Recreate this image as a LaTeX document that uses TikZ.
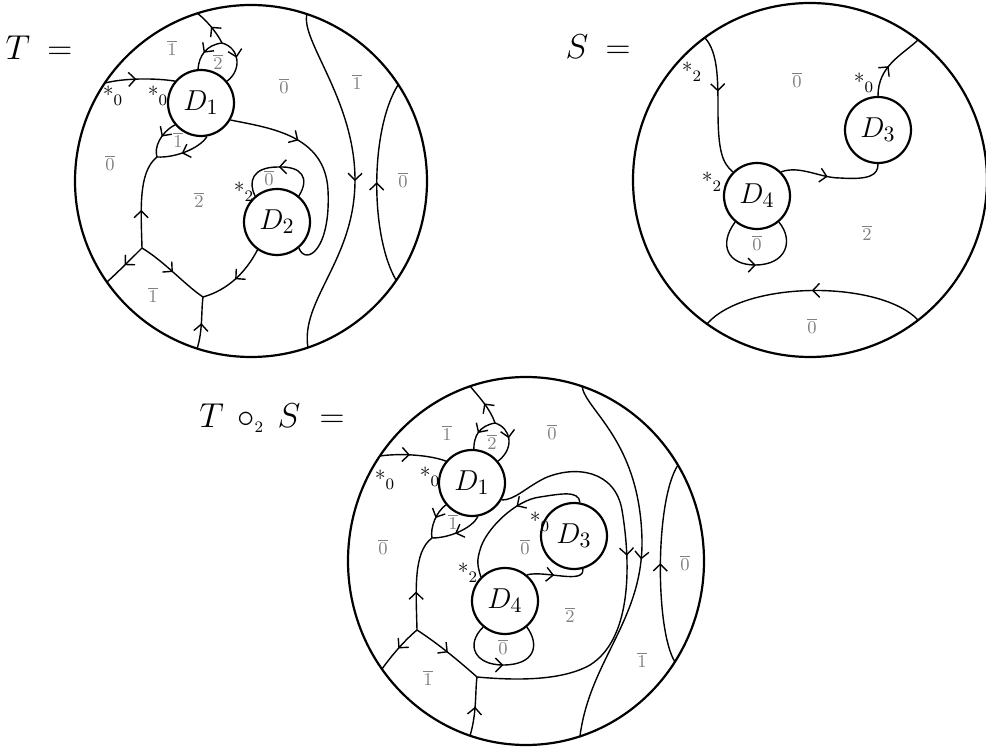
\documentclass[tikz,border=0pt]{standalone}
\usetikzlibrary{arrows.meta, decorations.markings}
\newcommand{\cls}[1]{$\overline{#1}$}
\begin{document}
\begin{tikzpicture}[x=0.5pt, y=-0.5pt,
  rim/.style={line width=1.1pt},
  wire/.style={line width=0.7pt},
  disk/.style={circle, draw, line width=1.1pt, minimum size=33pt, inner sep=0pt,
               font=\fontsize{15}{17}\selectfont},
  flow/.style={postaction={decorate, decoration={markings,
               mark=at position #1 with {\arrow{Straight Barb[length=3.4pt,width=7pt]}}}}},
  flow/.default=0.5,
  col/.style={text=gray, font=\fontsize{9}{10}\selectfont, inner sep=0pt},
  star/.style={font=\fontsize{11}{12}\selectfont, inner sep=0pt},
  title/.style={font=\fontsize{16}{18}\selectfont, inner sep=0pt}
]
\useasboundingbox (0,0) rectangle (986,748);

% ---- T ----
\node[title] (Tname) at (39,48) {$T\:=$};
\draw[rim] (251,181) circle[radius=176];
\node[disk] (D1) at (201,103) {$D_1$};
\node[disk] (D2) at (277,222) {$D_2$};
\coordinate (t1) at (197,13);
\coordinate (t2) at (105,83);
\coordinate (t3) at (107,282);
\coordinate (t4) at (197,349);
\coordinate (tA) at (307,14);
\coordinate (tB) at (308,348);
\coordinate (lA) at (398,85);
\coordinate (lB) at (396,280);
\coordinate (v1) at (222,43);
\coordinate (v2) at (157,157);
\coordinate (v3) at (142,248);
\coordinate (v4) at (203,297);

\draw[wire, flow] (v1) .. controls (216,31) and (205,19) .. (t1);
\draw[wire, flow=0.55] (v1) .. controls (206,45) and (199,56) .. (D1.95);
\draw[wire, flow=0.45] (v1) .. controls (240,48) and (242,70) .. (D1.40);
\draw[wire, flow=0.45] (t2) .. controls (125,78) and (155,78) .. (D1.140);
\draw[wire, flow=0.45] (D1.220) .. controls (160,133) and (154,148) .. (v2);
\draw[wire, flow=0.55] (D1.280) .. controls (200,148) and (176,158) .. (v2);
\draw[wire, flow=0.4] (v3) .. controls (141,210) and (138,172) .. (v2);
\draw[wire, flow] (v3) .. controls (130,260) and (118,272) .. (t3);
\draw[wire, flow] (v3) .. controls (165,262) and (185,285) .. (v4);
\draw[wire, flow] (t4) .. controls (203,330) and (201,312) .. (v4);
\draw[wire, flow] (D2.235) .. controls (246,272) and (228,290) .. (v4);
\draw[wire, flow=0.33] (D1.330) .. controls (270,128) and (325,135) .. (328,190)
  .. controls (331,250) and (306,266) .. (D2.310);
\draw[wire, flow] (D2.50) .. controls (310,178) and (302,166) .. (278,167)
  .. controls (252,167) and (248,182) .. (D2.130);
\draw[wire, flow] (tA) .. controls (300,40) and (355,100) .. (355,180)
  .. controls (355,260) and (300,300) .. (tB);
\draw[wire, flow] (lB) .. controls (370,235) and (370,130) .. (lA);

\node[col] (tc1) at (172,48) {\cls{1}};
\node[col] (tc2) at (218,62) {\cls{2}};
\node[col] (tc3) at (284,86) {\cls{0}};
\node[col] (tc4) at (357,82) {\cls{1}};
\node[col] (tc5) at (110,163) {\cls{0}};
\node[col] (tc6) at (178,140) {\cls{1}};
\node[col] (tc7) at (199,200) {\cls{2}};
\node[col] (tc8) at (269,178) {\cls{0}};
\node[col] (tc9) at (153,295) {\cls{1}};
\node[col] (tc10) at (403,180) {\cls{0}};
\node[star] (ts1) at (113,96) {*$_0$};
\node[star] (ts2) at (158,96) {*$_0$};
\node[star] (ts3) at (244,192) {*$_2$};

% ---- S ----
\node[title] (Sname) at (598,47) {$S\:=$};
\draw[rim] (810,180) circle[radius=177];
\node[disk] (D3) at (878,130) {$D_3$};
\node[disk] (D4) at (757,196) {$D_4$};
\coordinate (s1) at (705,38);
\coordinate (s2) at (918,40);
\coordinate (s3) at (707,324);
\coordinate (s4) at (918,320);

\draw[wire, flow=0.4] (s1) .. controls (718,52) and (718,80) .. (718,110)
  .. controls (718,150) and (722,163) .. (D4.135);
\draw[wire, flow=0.45] (D4.45) .. controls (800,165) and (820,178) .. (840,178)
  .. controls (870,180) and (878,175) .. (D3.270);
\draw[wire, flow=0.45] (D3.90) .. controls (878,66) and (902,55) .. (s2);
\draw[wire, flow] (D4.230) .. controls (718,245) and (728,265) .. (755,265)
  .. controls (787,265) and (794,240) .. (D4.310);
\draw[wire, flow] (s4) .. controls (880,280) and (745,280) .. (s3);

\node[col] (sc1) at (797,80) {\cls{0}};
\node[col] (sc2) at (867,233) {\cls{2}};
\node[col] (sc3) at (757,243) {\cls{0}};
\node[col] (sc4) at (812,326) {\cls{0}};
\node[star] (ss1) at (692,72) {*$_2$};
\node[star] (ss2) at (712,182) {*$_2$};
\node[star] (ss3) at (864,83) {*$_0$};

% ---- T o_2 S ----
\node[title] (TSname) at (272,418) {$T\,\circ_{\scriptscriptstyle 2}\,S\;=$};
\draw[rim] (526,561) ellipse[x radius=178, y radius=184];
\node[disk] (E1) at (472,483) {$D_1$};
\node[disk] (E3) at (574,536) {$D_3$};
\node[disk] (E4) at (505,601) {$D_4$};
\coordinate (c1) at (470,386);
\coordinate (c2) at (380,456);
\coordinate (c3) at (382,669);
\coordinate (c4) at (470,736);
\coordinate (cA) at (582,386);
\coordinate (cB) at (580,736);
\coordinate (mA) at (678,465);
\coordinate (mB) at (675,662);
\coordinate (w1) at (495,423);
\coordinate (w2) at (432,538);
\coordinate (w3) at (417,630);
\coordinate (w4) at (477,677);

\draw[wire, flow] (w1) .. controls (490,408) and (478,396) .. (c1);
\draw[wire, flow=0.55] (w1) .. controls (479,426) and (474,436) .. (E1.87);
\draw[wire, flow=0.45] (w1) .. controls (511,428) and (515,448) .. (E1.40);
\draw[wire, flow=0.45] (c2) .. controls (400,453) and (430,455) .. (E1.140);
\draw[wire, flow=0.45] (E1.220) .. controls (436,512) and (430,528) .. (w2);
\draw[wire, flow=0.55] (E1.280) .. controls (472,528) and (450,538) .. (w2);
\draw[wire, flow=0.4] (w3) .. controls (416,590) and (413,552) .. (w2);
\draw[wire, flow] (w3) .. controls (405,640) and (392,655) .. (c3);
\draw[wire, flow] (w3) .. controls (440,645) and (460,662) .. (w4);
\draw[wire, flow] (c4) .. controls (477,712) and (475,692) .. (w4);
\draw[wire, flow=0.45] (E1.330) .. controls (515,500) and (525,488) .. (545,478)
  .. controls (575,465) and (615,470) .. (622,510)
  .. controls (632,570) and (630,640) .. (590,665)
  .. controls (560,682) and (510,680) .. (w4);
\draw[wire, flow=0.45] (E3.80) .. controls (579,490) and (560,494) .. (540,497)
  .. controls (515,500) and (485,530) .. (480,550)
  .. controls (477,560) and (477,565) .. (E4.135);
\draw[wire, flow=0.45] (E4.50) .. controls (545,570) and (585,585) .. (E3.285);
\draw[wire, flow] (E4.230) .. controls (465,645) and (475,665) .. (503,665)
  .. controls (535,665) and (540,645) .. (E4.310);
\draw[wire, flow] (cA) .. controls (585,410) and (640,440) .. (642,540)
  .. controls (643,620) and (590,660) .. (cB);
\draw[wire, flow] (mB) .. controls (655,630) and (655,500) .. (mA);

\node[col] (ec1) at (447,433) {\cls{1}};
\node[col] (ec2) at (492,442) {\cls{2}};
\node[col] (ec3) at (552,432) {\cls{0}};
\node[col] (ec4) at (383,547) {\cls{0}};
\node[col] (ec5) at (453,522) {\cls{1}};
\node[col] (ec6) at (525,547) {\cls{0}};
\node[col] (ec7) at (570,615) {\cls{2}};
\node[col] (ec8) at (503,647) {\cls{0}};
\node[col] (ec9) at (428,678) {\cls{1}};
\node[col] (ec10) at (642,660) {\cls{1}};
\node[col] (ec11) at (685,563) {\cls{0}};
\node[star] (es1) at (385,480) {*$_0$};
\node[star] (es2) at (430,477) {*$_0$};
\node[star] (es3) at (540,522) {*$_0$};
\node[star] (es4) at (468,573) {*$_2$};
\end{tikzpicture}
\end{document}
